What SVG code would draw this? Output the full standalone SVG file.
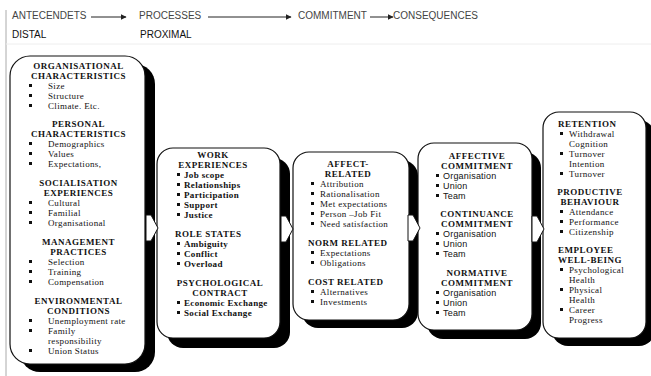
<svg xmlns="http://www.w3.org/2000/svg" width="651" height="376" viewBox="0 0 651 376">
  <defs>
    <marker id="tip" viewBox="0 0 10 10" refX="9" refY="5" markerWidth="6" markerHeight="6" orient="auto" markerUnits="userSpaceOnUse">
      <path d="M0,0 L10,5 L0,10 z" fill="#222"/>
    </marker>
    <style>
      .stage { font: 10px "Liberation Sans", Arial, sans-serif; fill: #444; }
      .level { font: 10px "Liberation Sans", Arial, sans-serif; fill: #111; }
      .card { fill: #fff; stroke: #111; stroke-width: 1.2; }
      .shade { fill: #000; }
      .h { font: bold 9px "Liberation Serif", "Times New Roman", serif; letter-spacing: 0.5px; fill: #111; text-anchor: middle; }
      .hl { font: bold 9px "Liberation Serif", "Times New Roman", serif; letter-spacing: 0.5px; fill: #111; }
      .i { font: 9px "Liberation Serif", "Times New Roman", serif; letter-spacing: 0.35px; fill: #111; }
      .ib { font: bold 9px "Liberation Serif", "Times New Roman", serif; letter-spacing: 0.35px; fill: #111; }
      .is { font: 9px "Liberation Sans", Arial, sans-serif; letter-spacing: 0.2px; fill: #111; }
      .b { fill: #111; }
      .flow { fill: #fff; stroke: #111; stroke-width: 1; }
      .rule { stroke: #222; stroke-width: 1; fill: none; }
    </style>
  </defs>

  <rect width="651" height="376" fill="#fff"/>
  <!-- page frame -->
  <line x1="6" y1="10" x2="6" y2="376" stroke="#aaa" stroke-width="1"/>
  <line x1="6" y1="44" x2="651" y2="44" stroke="#eee" stroke-width="1"/>

  <!-- stage header -->
  <g id="header">
    <text class="stage" x="12" y="18.5">ANTECENDETS</text>
    <text class="stage" x="139" y="18.5">PROCESSES</text>
    <text class="stage" x="298" y="18.5">COMMITMENT</text>
    <text class="stage" x="393" y="18.5">CONSEQUENCES</text>
    <text class="level" x="12" y="37.5">DISTAL</text>
    <text class="level" x="140" y="37.5">PROXIMAL</text>
  </g>

  <!-- boxes -->
  <g id="antecedents">
    <rect class="shade" x="20" y="64" width="135" height="308" rx="20"/>
    <rect class="card" x="10" y="56" width="135" height="308" rx="20"/>
    <text class="h" x="78.5" y="69">ORGANISATIONAL</text>
    <text class="h" x="78.5" y="79">CHARACTERISTICS</text>
    <rect class="b" x="29" y="84" width="3" height="3"/><text class="i" x="48" y="89">Size</text>
    <rect class="b" x="29" y="94" width="3" height="3"/><text class="i" x="48" y="99">Structure</text>
    <rect class="b" x="29" y="104" width="3" height="3"/><text class="i" x="48" y="109">Climate. Etc.</text>
    <text class="h" x="78.5" y="127">PERSONAL</text>
    <text class="h" x="78.5" y="137">CHARACTERISTICS</text>
    <rect class="b" x="29" y="142" width="3" height="3"/><text class="i" x="48" y="147">Demographics</text>
    <rect class="b" x="29" y="152" width="3" height="3"/><text class="i" x="48" y="157">Values</text>
    <rect class="b" x="29" y="162" width="3" height="3"/><text class="i" x="48" y="167">Expectations,</text>
    <text class="h" x="78.5" y="186">SOCIALISATION</text>
    <text class="h" x="78.5" y="196">EXPERIENCES</text>
    <rect class="b" x="29" y="201" width="3" height="3"/><text class="i" x="48" y="206">Cultural</text>
    <rect class="b" x="29" y="211" width="3" height="3"/><text class="i" x="48" y="216">Familial</text>
    <rect class="b" x="29" y="221" width="3" height="3"/><text class="i" x="48" y="226">Organisational</text>
    <text class="h" x="78.5" y="245">MANAGEMENT</text>
    <text class="h" x="78.5" y="255">PRACTICES</text>
    <rect class="b" x="29" y="260" width="3" height="3"/><text class="i" x="48" y="265">Selection</text>
    <rect class="b" x="29" y="270" width="3" height="3"/><text class="i" x="48" y="275">Training</text>
    <rect class="b" x="29" y="280" width="3" height="3"/><text class="i" x="48" y="285">Compensation</text>
    <text class="h" x="78.5" y="304">ENVIRONMENTAL</text>
    <text class="h" x="78.5" y="314">CONDITIONS</text>
    <rect class="b" x="29" y="319" width="3" height="3"/><text class="i" x="48" y="324">Unemployment rate</text>
    <rect class="b" x="29" y="329" width="3" height="3"/><text class="i" x="48" y="334">Family</text>
    <text class="i" x="48" y="344">responsibility</text>
    <rect class="b" x="29" y="349" width="3" height="3"/><text class="i" x="48" y="354">Union Status</text>
  </g>

  <g id="processes">
    <rect class="shade" x="167" y="158" width="123" height="190" rx="16"/>
    <rect class="card" x="157" y="148" width="123" height="190" rx="16"/>
    <text class="h" x="213" y="158">WORK</text>
    <text class="h" x="213" y="168">EXPERIENCES</text>
    <rect class="b" x="177" y="173" width="3" height="3"/><text class="ib" x="184" y="178">Job scope</text>
    <rect class="b" x="177" y="183" width="3" height="3"/><text class="ib" x="184" y="188">Relationships</text>
    <rect class="b" x="177" y="193" width="3" height="3"/><text class="ib" x="184" y="198">Participation</text>
    <rect class="b" x="177" y="203" width="3" height="3"/><text class="ib" x="184" y="208">Support</text>
    <rect class="b" x="177" y="213" width="3" height="3"/><text class="ib" x="184" y="218">Justice</text>
    <text class="hl" x="175" y="237">ROLE STATES</text>
    <rect class="b" x="177" y="242" width="3" height="3"/><text class="ib" x="184" y="247">Ambiguity</text>
    <rect class="b" x="177" y="252" width="3" height="3"/><text class="ib" x="184" y="257">Conflict</text>
    <rect class="b" x="177" y="262" width="3" height="3"/><text class="ib" x="184" y="267">Overload</text>
    <text class="h" x="220" y="286">PSYCHOLOGICAL</text>
    <text class="h" x="220" y="296">CONTRACT</text>
    <rect class="b" x="177" y="301" width="3" height="3"/><text class="ib" x="184" y="306">Economic Exchange</text>
    <rect class="b" x="177" y="311" width="3" height="3"/><text class="ib" x="184" y="316">Social Exchange</text>
  </g>

  <g id="bases">
    <rect class="shade" x="302" y="160" width="116" height="168" rx="16"/>
    <rect class="card" x="293" y="152" width="116" height="168" rx="16"/>
    <text class="h" x="348" y="167">AFFECT-</text>
    <text class="h" x="348" y="177">RELATED</text>
    <rect class="b" x="311" y="182" width="3" height="3"/><text class="i" x="320" y="187">Attribution</text>
    <rect class="b" x="311" y="192" width="3" height="3"/><text class="i" x="320" y="197">Rationalisation</text>
    <rect class="b" x="311" y="202" width="3" height="3"/><text class="i" x="320" y="207">Met expectations</text>
    <rect class="b" x="311" y="212" width="3" height="3"/><text class="i" x="320" y="217">Person –Job Fit</text>
    <rect class="b" x="311" y="222" width="3" height="3"/><text class="i" x="320" y="227">Need satisfaction</text>
    <text class="hl" x="308" y="246">NORM RELATED</text>
    <rect class="b" x="311" y="251" width="3" height="3"/><text class="i" x="320" y="256">Expectations</text>
    <rect class="b" x="311" y="261" width="3" height="3"/><text class="i" x="320" y="266">Obligations</text>
    <text class="hl" x="308" y="285">COST RELATED</text>
    <rect class="b" x="311" y="290" width="3" height="3"/><text class="i" x="320" y="295">Alternatives</text>
    <rect class="b" x="311" y="300" width="3" height="3"/><text class="i" x="320" y="305">Investments</text>
  </g>

  <g id="commitment">
    <rect class="shade" x="427" y="152" width="114" height="187" rx="16"/>
    <rect class="card" x="418" y="143" width="114" height="187" rx="16"/>
    <text class="h" x="477" y="159">AFFECTIVE</text>
    <text class="h" x="477" y="169">COMMITMENT</text>
    <rect class="b" x="436" y="174" width="3" height="3"/><text class="is" x="443" y="179">Organisation</text>
    <rect class="b" x="436" y="184" width="3" height="3"/><text class="is" x="443" y="189">Union</text>
    <rect class="b" x="436" y="194" width="3" height="3"/><text class="is" x="443" y="199">Team</text>
    <text class="h" x="477" y="217">CONTINUANCE</text>
    <text class="h" x="477" y="227">COMMITMENT</text>
    <rect class="b" x="436" y="232" width="3" height="3"/><text class="is" x="443" y="237">Organisation</text>
    <rect class="b" x="436" y="242" width="3" height="3"/><text class="is" x="443" y="247">Union</text>
    <rect class="b" x="436" y="252" width="3" height="3"/><text class="is" x="443" y="257">Team</text>
    <text class="h" x="477" y="276">NORMATIVE</text>
    <text class="h" x="477" y="286">COMMITMENT</text>
    <rect class="b" x="436" y="291" width="3" height="3"/><text class="is" x="443" y="296">Organisation</text>
    <rect class="b" x="436" y="301" width="3" height="3"/><text class="is" x="443" y="306">Union</text>
    <rect class="b" x="436" y="311" width="3" height="3"/><text class="is" x="443" y="316">Team</text>
  </g>

  <g id="consequences">
    <rect class="shade" x="552" y="120" width="103" height="226" rx="16"/>
    <rect class="card" x="543" y="112" width="103" height="226" rx="16"/>
    <text class="hl" x="558" y="127">RETENTION</text>
    <rect class="b" x="560" y="132" width="3" height="3"/><text class="i" x="569" y="137">Withdrawal</text>
    <text class="i" x="569" y="147">Cognition</text>
    <rect class="b" x="560" y="152" width="3" height="3"/><text class="i" x="569" y="157">Turnover</text>
    <text class="i" x="569" y="167">Intention</text>
    <rect class="b" x="560" y="172" width="3" height="3"/><text class="i" x="569" y="177">Turnover</text>
    <text class="h" x="590" y="195">PRODUCTIVE</text>
    <text class="h" x="590" y="205">BEHAVIOUR</text>
    <rect class="b" x="560" y="210" width="3" height="3"/><text class="i" x="569" y="215">Attendance</text>
    <rect class="b" x="560" y="220" width="3" height="3"/><text class="i" x="569" y="225">Performance</text>
    <rect class="b" x="560" y="230" width="3" height="3"/><text class="i" x="569" y="235">Citizenship</text>
    <text class="hl" x="558" y="253">EMPLOYEE</text>
    <text class="hl" x="558" y="263">WELL-BEING</text>
    <rect class="b" x="560" y="268" width="3" height="3"/><text class="i" x="569" y="273">Psychological</text>
    <text class="i" x="569" y="283">Health</text>
    <rect class="b" x="560" y="288" width="3" height="3"/><text class="i" x="569" y="293">Physical</text>
    <text class="i" x="569" y="303">Health</text>
    <rect class="b" x="560" y="308" width="3" height="3"/><text class="i" x="569" y="313">Career</text>
    <text class="i" x="569" y="323">Progress</text>
  </g>

  <!-- connectors: stage arrows in the header and block arrows between boxes -->
  <g id="connectors">
    <line class="rule" x1="91" y1="17" x2="126" y2="17" marker-end="url(#tip)"/>
    <line class="rule" x1="208" y1="17" x2="291" y2="17" marker-end="url(#tip)"/>
    <line class="rule" x1="370" y1="17" x2="393" y2="17" marker-end="url(#tip)"/>
    <path class="flow" d="M146,215 L151,215 L158,228 L151,241 L146,241 Z"/>
    <path class="flow" d="M281,216 L286,216 L293,229 L286,242 L281,242 Z"/>
    <path class="flow" d="M408,215 L413,215 L420,228 L413,241 L408,241 Z"/>
    <path class="flow" d="M532,216 L537,216 L544,229 L537,242 L532,242 Z"/>
  </g>
</svg>
